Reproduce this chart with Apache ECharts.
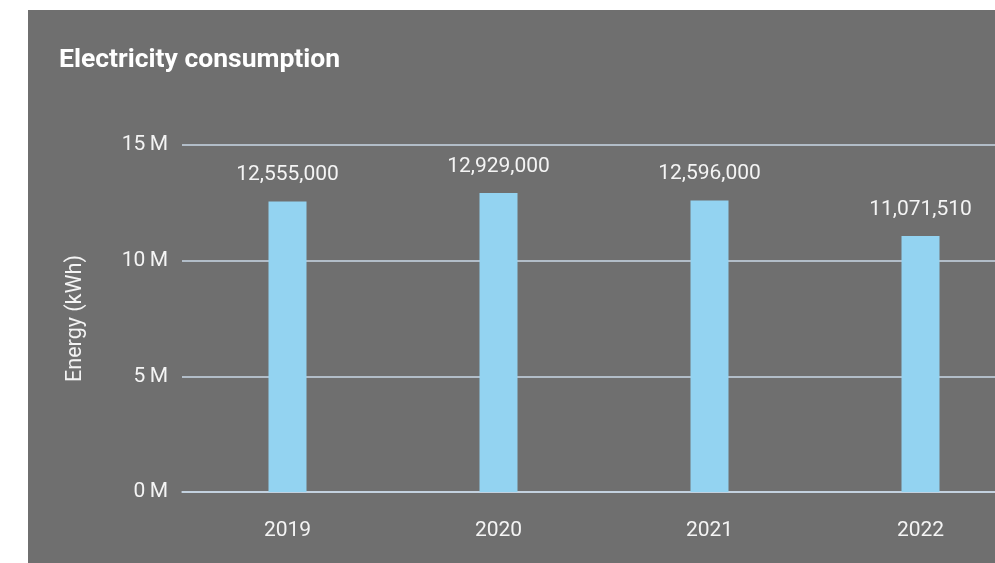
<!DOCTYPE html>
<html>
<head>
<meta charset="utf-8">
<script src="https://cdn.jsdelivr.net/npm/echarts@6/dist/echarts.min.js"></script>
<style>
  html, body { margin: 0; padding: 0; background: #ffffff; }
  #frame { position: absolute; left: 28px; top: 10px; width: 967px; height: 553px; overflow: hidden; background: #6f6f6f; }
  #chart { position: absolute; left: 0; top: 0; width: 998px; height: 553px; }
</style>
</head>
<body>
<div id="frame"><div id="chart"></div></div>
<script>
var years = ['2019', '2020', '2021', '2022'];
var energy = [12555000, 12929000, 12596000, 11071510];
var yTicks = [0, 5000000, 10000000, 15000000];

var chart = echarts.init(document.getElementById('chart'));
chart.setOption({
  animation: false,
  textStyle: { fontFamily: 'Roboto' },
  title: {
    text: 'Electricity consumption',
    left: 26, top: 32,
    textStyle: { color: '#ffffff', fontSize: 26.5, fontWeight: 'bold', fontFamily: 'Roboto' }
  },
  grid: { left: 154, right: 0, top: 135, bottom: 71 },
  xAxis: {
    type: 'category',
    data: years,
    axisLine: { lineStyle: { color: '#c9d7e6', width: 1.5 } },
    axisTick: { show: false },
    axisLabel: { color: '#f4f4f4', fontSize: 21, margin: 28 }
  },
  yAxis: {
    type: 'value',
    min: yTicks[0],
    max: yTicks[yTicks.length - 1],
    interval: 5000000,
    name: 'Energy (kWh)',
    nameLocation: 'middle',
    nameGap: 95,
    nameTextStyle: { color: '#f4f4f4', fontSize: 21.5 },
    axisLine: { show: false },
    axisTick: { show: false },
    axisLabel: {
      color: '#f4f4f4', fontSize: 21, margin: 14,
      formatter: function (v) { return (v / 1000000) + '\u2009M'; }
    },
    splitLine: { lineStyle: { color: '#c9d7e6', width: 1.5 } }
  },
  series: [{
    type: 'bar',
    data: energy,
    barWidth: 38,
    itemStyle: { color: '#93d3f1' },
    label: {
      show: true,
      position: 'top',
      distance: 16,
      color: '#f4f4f4',
      fontSize: 21,
      formatter: function (p) { return p.value.toLocaleString('en-US'); }
    }
  }]
});
</script>
</body>
</html>
